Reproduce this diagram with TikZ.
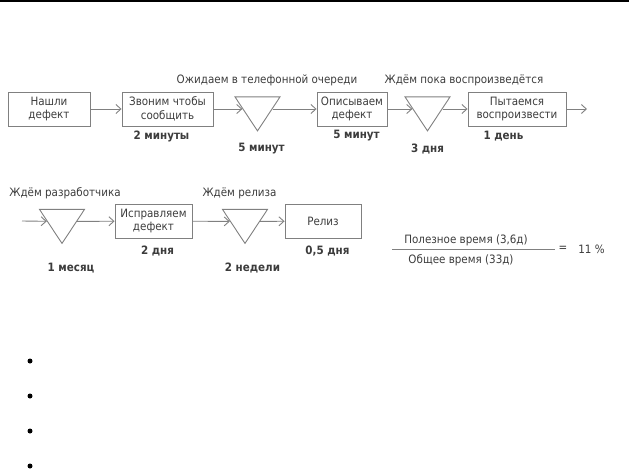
\documentclass[tikz,border=0pt]{standalone}
\usepackage{fontspec}
\setmainfont{DejaVu Sans Condensed}
\usetikzlibrary{arrows.meta, shapes.geometric}
\definecolor{vsgray}{HTML}{808080}
\definecolor{vstext}{HTML}{3C3C3C}

\begin{document}
\begin{tikzpicture}[
  x=1pt, y=-1pt,
  every node/.style={font=\fontsize{11.5}{13.5}\selectfont, text=vstext},
  proc/.style={rectangle, draw=vsgray, line width=0.9pt, minimum height=34pt, align=center, inner sep=1pt},
  wait/.style={isosceles triangle, isosceles triangle stretches, shape border rotate=270, draw=vsgray, line width=0.9pt, minimum width=45pt, minimum height=34pt, inner sep=0pt},
  dur/.style={font=\fontsize{11.5}{13}\selectfont\bfseries},
  flow/.style={vsgray, line width=0.9pt, -{Straight Barb[length=5pt, width=9pt]}},
]
\useasboundingbox (0,0) rectangle (629,474);

% top rule
\draw[black, line width=1.6pt] (0,1) -- (629,1);

% first row
\node[proc, minimum width=82pt] (found) at (49,109) {Нашли\\дефект};
\node[proc, minimum width=91pt] (call) at (167.5,109) {Звоним чтобы\\сообщить};
\node[wait] (queue) at (257.5,109) {};
\node[proc, minimum width=70pt] (describe) at (352,109) {Описываем\\дефект};
\node[wait] (repro) at (427.5,109) {};
\node[proc, minimum width=98pt] (tryrepro) at (517,109) {Пытаемся\\воспроизвести};
\coordinate (rowend) at (587,109);

\draw[flow] (found) -- (call);
\draw[flow] (call) -- (queue);
\draw[flow] (queue) -- (describe);
\draw[flow] (describe) -- (repro);
\draw[flow] (repro) -- (tryrepro);
\draw[flow] (tryrepro) -- (rowend);

\node (queuelbl) at (267,80) {Ожидаем в телефонной очереди};
\node (reprolbl) at (464,80) {Ждём пока воспроизведётся};

\node[dur] (t1) at (161.5,136) {2 минуты};
\node[dur] (t2) at (261.5,149) {5 минут};
\node[dur] (t3) at (356.5,136) {5 минут};
\node[dur] (t4) at (427.5,149) {3 дня};
\node[dur] (t5) at (503.5,136) {1 день};

% second row
\coordinate (rowstart) at (22,221);
\node[wait] (dev) at (62,221.5) {};
\node[proc, minimum width=77pt] (fix) at (153.5,221) {Исправляем\\дефект};
\node[wait] (rel) at (245,221.5) {};
\node[proc, minimum width=76pt] (release) at (323,221) {Релиз};

\draw[flow] (rowstart) -- (dev);
\draw[flow] (dev) -- (fix);
\draw[flow] (fix) -- (rel);
\draw[flow] (rel) -- (release);

\node (devlbl) at (65,193) {Ждём разработчика};
\node (rellbl) at (239.5,193) {Ждём релиза};

\node[dur] (t6) at (157.5,251) {2 дня};
\node[dur] (t7) at (327.5,251) {0,5 дня};
\node[dur] (t8) at (71,268) {1 месяц};
\node[dur] (t9) at (252.5,268) {2 недели};

% efficiency
\node (useful) at (466,240) {Полезное время (3,6д)};
\node (total) at (461,260) {Общее время (33д)};
\draw[vsgray, line width=0.9pt] (392,249) -- (555,249);
\node (eq) at (563,249) {=};
\node (ratio) at (591.5,249) {11 \%};

% bullets
\foreach \y in {361,396,431,466}
  \fill[black] (30,\y) circle (2.5pt);

\end{tikzpicture}
\end{document}
